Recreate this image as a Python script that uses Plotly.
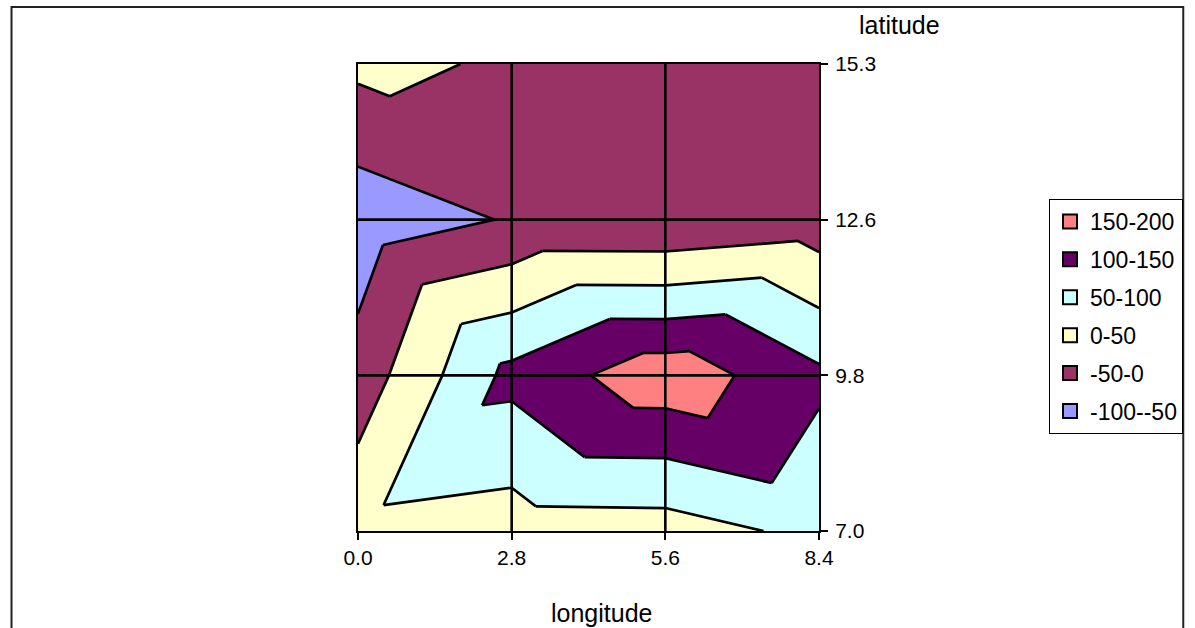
import plotly.graph_objects as go

# ---- data -------------------------------------------------------------
lon_ticks = [0.0, 2.8, 5.6, 8.4]
lat_labels = ["7.0", "9.8", "12.6", "15.3"]

# surface values by latitude row (south to north), one value per longitude
z_lat_7_0 = [37, 25, 27, 63]
z_lat_9_8 = [-29, 115, 183, 110]
z_lat_12_6 = [-82, -46, -47, -29]
z_lat_15_3 = [12, -6, -18, -15]

band_edges = [-100, -50, 0, 50, 100, 150, 200]
band_names = ["-100--50", "-50-0", "0-50", "50-100", "100-150", "150-200"]
band_colors = ["#9999FF", "#993366", "#FFFFCC", "#CCFFFF", "#660066", "#FF8080"]

z_rows = [z_lat_7_0, z_lat_9_8, z_lat_12_6, z_lat_15_3]
lat_pos = list(range(len(lat_labels)))  # category axis: evenly spaced rows

# ---- layout geometry (pixels) ----------------------------------------
W, H = 1195, 628
PL, PR, PT, PB = 358, 825, 64, 531


def px_x(px):
    return (px - PL) / (PR - PL)


def px_y(py):
    return (PB - py) / (PB - PT)


# ---- triangulated surface (each cell split along the diagonal through its max corner)
def vert(i, j):
    return (lon_ticks[i], lat_pos[j], z_rows[j][i])


triangles = []
for j in range(len(lat_pos) - 1):
    for i in range(len(lon_ticks) - 1):
        bl, br, tl, tr = vert(i, j), vert(i + 1, j), vert(i, j + 1), vert(i + 1, j + 1)
        corners = [bl, br, tl, tr]
        top = max(corners, key=lambda p: p[2])
        if top is bl or top is tr:
            triangles += [(bl, br, tr), (bl, tr, tl)]
        else:
            triangles += [(tl, bl, br), (tl, br, tr)]


def clip(poly, level, keep_above):
    out = []
    n = len(poly)
    for k in range(n):
        p, q = poly[k], poly[(k + 1) % n]
        pin = p[2] >= level if keep_above else p[2] <= level
        qin = q[2] >= level if keep_above else q[2] <= level
        if pin:
            out.append(p)
        if pin != qin:
            t = (level - p[2]) / (q[2] - p[2])
            out.append((p[0] + t * (q[0] - p[0]), p[1] + t * (q[1] - p[1]), level))
    return out


fig = go.Figure()

# filled bands
for lo, hi, name, color in zip(band_edges[:-1], band_edges[1:], band_names, band_colors):
    xs, ys = [], []
    for tri in triangles:
        poly = clip(list(tri), lo, True)
        if len(poly) >= 3:
            poly = clip(poly, hi, False)
        if len(poly) >= 3:
            xs += [p[0] for p in poly] + [poly[0][0], None]
            ys += [p[1] for p in poly] + [poly[0][1], None]
    if xs:
        fig.add_trace(go.Scatter(
            x=xs, y=ys, mode="lines", fill="toself", fillcolor=color,
            line=dict(width=0, color=color), hoverinfo="skip", showlegend=False,
        ))

# contour lines at the band boundaries
lx, ly = [], []
for level in band_edges[1:-1]:
    for tri in triangles:
        pts = []
        for a, b in ((0, 1), (1, 2), (2, 0)):
            p, q = tri[a], tri[b]
            if (p[2] - level) * (q[2] - level) < 0:
                t = (level - p[2]) / (q[2] - p[2])
                pts.append((p[0] + t * (q[0] - p[0]), p[1] + t * (q[1] - p[1])))
        if len(pts) == 2:
            lx += [pts[0][0], pts[1][0], None]
            ly += [pts[0][1], pts[1][1], None]
fig.add_trace(go.Scatter(x=lx, y=ly, mode="lines", line=dict(color="black", width=2.7),
                         hoverinfo="skip", showlegend=False))

# legend entries, highest band first
for k, (name, color) in enumerate(zip(band_names[::-1], band_colors[::-1])):
    fig.add_trace(go.Scatter(
        x=[None], y=[None], mode="markers", name=name, legendgroup=f"g{k}",
        marker=dict(symbol="square", size=14, color=color, line=dict(color="black", width=2)),
    ))

# gridlines drawn over the filled surface
shapes = []
for xv in lon_ticks[1:-1]:
    shapes.append(dict(type="line", xref="x", yref="paper", x0=xv, x1=xv, y0=0, y1=1,
                       line=dict(color="black", width=2.6), layer="above"))
for yv in lat_pos[1:-1]:
    shapes.append(dict(type="line", xref="paper", yref="y", x0=0, x1=1, y0=yv, y1=yv,
                       line=dict(color="black", width=2.6), layer="above"))
# chart frame
shapes.append(dict(type="rect", xref="paper", yref="paper",
                   x0=px_x(7), x1=px_x(1194), y0=px_y(7), y1=px_y(660),
                   line=dict(color="#222222", width=2), layer="above"))

font_family = "Liberation Sans, Arial, sans-serif"

fig.update_layout(
    width=W, height=H,
    margin=dict(l=PL, r=W - PR, t=PT, b=H - PB, pad=0),
    paper_bgcolor="white", plot_bgcolor="white",
    font=dict(family=font_family, color="black", size=20),
    shapes=shapes,
    showlegend=True,
    legend=dict(
        x=px_x(1058), y=px_y(199), xanchor="left", yanchor="top",
        bordercolor="black", borderwidth=1, bgcolor="white",
        font=dict(size=23, family=font_family, color="black"),
        tracegroupgap=5, traceorder="grouped",
    ),
    annotations=[
        dict(text="latitude", xref="paper", yref="paper",
             x=px_x(907), y=px_y(25), xanchor="center", yanchor="middle",
             showarrow=False, font=dict(size=25, family=font_family, color="black")),
        dict(text="longitude", xref="paper", yref="paper",
             x=px_x(605), y=px_y(613), xanchor="center", yanchor="middle",
             showarrow=False, font=dict(size=25, family=font_family, color="black")),
    ],
)

fig.update_xaxes(
    range=[lon_ticks[0], lon_ticks[-1]],
    tickvals=lon_ticks, ticktext=[f"{v:.1f}" for v in lon_ticks],
    ticks="outside", ticklen=7, tickwidth=2, tickcolor="black",
    showline=True, linewidth=2, linecolor="black", mirror=True,
    showgrid=False, zeroline=False,
    tickfont=dict(size=21),
)
fig.update_yaxes(
    range=[lat_pos[0], lat_pos[-1]], side="right",
    tickvals=lat_pos, ticktext=lat_labels,
    ticks="outside", ticklen=7, tickwidth=2, tickcolor="black",
    showline=True, linewidth=2, linecolor="black", mirror=True,
    showgrid=False, zeroline=False,
    tickfont=dict(size=21), ticklabelstandoff=3,
)

fig.write_html("out.html")
